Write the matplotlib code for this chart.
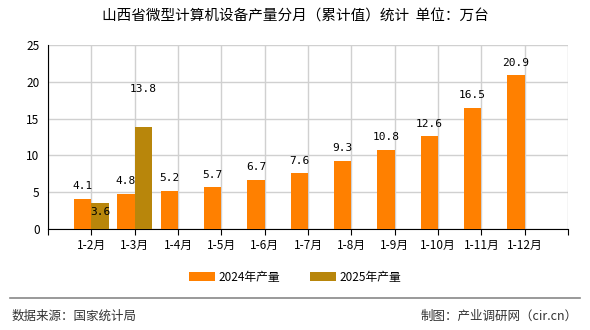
import matplotlib
matplotlib.use("Agg")
import matplotlib.pyplot as plt
import numpy as np

plt.rcParams['font.family'] = ['Noto Sans CJK SC', 'DejaVu Sans']

months = ["1-2月", "1-3月", "1-4月", "1-5月", "1-6月", "1-7月",
          "1-8月", "1-9月", "1-10月", "1-11月", "1-12月"]
vals_2024 = [4.1, 4.8, 5.2, 5.7, 6.7, 7.6, 9.3, 10.8, 12.6, 16.5, 20.9]
vals_2025 = [3.6, 13.8]

c2024 = "#FF8000"
c2025 = "#B8860B"


def main():
    fig = plt.figure(figsize=(5.9, 3.3), dpi=100)
    ax = fig.add_axes([48 / 590, 1 - 229 / 330, 520 / 590, 184 / 330])

    x = np.arange(len(months))
    w = 0.4
    ax.bar(x - w / 2, vals_2024, w, color=c2024, label="2024年产量", zorder=3)
    x25 = x[:len(vals_2025)]
    ax.bar(x25 + w / 2, vals_2025, w, color=c2025, label="2025年产量", zorder=3)

    for xi, v in zip(x, vals_2024):
        ax.annotate(f"{v}", (xi - w / 2, v), xytext=(0, 9), textcoords="offset points",
                    ha="center", va="center", fontsize=8, family="DejaVu Sans Mono", zorder=4)
    # 2025 标签位置与原图一致（手动偏移）
    offs = [-7, 28]
    for xi, v, o in zip(x25, vals_2025, offs):
        ax.annotate(f"{v}", (xi + w / 2, v), xytext=(0, o), textcoords="offset points",
                    ha="center", va="center", fontsize=8, family="DejaVu Sans Mono", zorder=4)

    ax.set_xlim(-1, len(months))
    ax.set_ylim(0, 25)
    ax.set_xticks(np.arange(-1, len(months) + 1))
    ax.set_xticklabels([""] + months + [""], fontsize=8.5)
    ax.set_yticks(np.arange(0, 26, 5))
    ax.tick_params(axis="y", labelsize=8.5, length=0, pad=6)
    ax.tick_params(axis="x", length=4, color="black", pad=3)
    ax.grid(True, color="#D0D0D0", linewidth=1, zorder=0)
    for s in ["top", "right"]:
        ax.spines[s].set_visible(False)
    ax.spines["left"].set_color("black")
    ax.spines["bottom"].set_color("black")

    fig.text(0.5, 1 - 17 / 330, "山西省微型计算机设备产量分月（累计值）统计  单位：万台",
             ha="center", va="center", fontsize=10.5)

    fig.legend(loc="center", bbox_to_anchor=(0.5, 1 - 277 / 330), ncol=2, frameon=False,
               fontsize=8.5, handlelength=2.2, handleheight=0.8, columnspacing=2.5,
               handletextpad=0.3)

    fig.add_artist(plt.Line2D([10 / 590, 580 / 590], [1 - 298 / 330] * 2,
                              color="#888888", linewidth=1.2))
    fig.text(12 / 590, 1 - 316 / 330, "数据来源：国家统计局", ha="left", va="center",
             fontsize=9, color="#333333")
    fig.text(578 / 590, 1 - 316 / 330, "制图：产业调研网（cir.cn）", ha="right", va="center",
             fontsize=9, color="#333333")

    fig.savefig("out.png", dpi=100)


if __name__ == '__main__':
    main()
